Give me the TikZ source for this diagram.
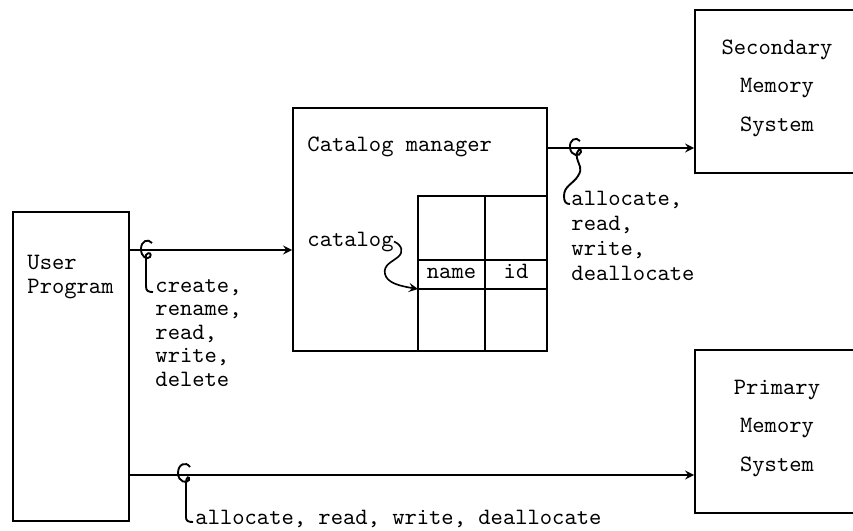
\documentclass[tikz,border=0pt]{standalone}
\begin{document}
\begin{tikzpicture}[
    x=0.015cm, y=-0.015cm,
    box/.style={draw, line width=0.8pt, inner sep=0pt},
    txt/.style={font=\fontsize{10}{10.2}\selectfont\ttfamily, inner sep=0pt, align=left},
    lbl/.style={font=\fontsize{10}{10}\selectfont\ttfamily, inner sep=0pt, align=left},
    lblwide/.style={font=\fontsize{10}{10.6}\selectfont\ttfamily, inner sep=0pt, align=left},
    boxtxt/.style={font=\fontsize{10}{16.4}\selectfont\ttfamily, inner sep=0pt, align=center},
    arrow/.style={->, >=stealth, line width=0.7pt},
    tie/.style={line width=0.8pt},
]
\useasboundingbox (0,0) rectangle (853,531);

% User program (base = last line)
\node[box, minimum width=1.74cm, minimum height=4.635cm] (user) at (71,366.5) {};
\node[txt, anchor=base west] (usertxt) at (27,293) {User\\Program};

% Catalog manager
\node[box, minimum width=3.81cm, minimum height=3.645cm] (cat) at (420,229.5) {};
\node[txt, anchor=base west] (catname) at (307,151) {Catalog manager};

% Catalog table
\node[box, minimum width=1.935cm, minimum height=2.325cm] (tbl) at (482.5,273.5) {};
\coordinate (rowa) at (418,260);
\coordinate (rowb) at (418,289);
\coordinate (colx) at (485,196);
\draw[line width=0.8pt] (rowa) -- (rowa -| tbl.east);
\draw[line width=0.8pt] (rowb) -- (rowb -| tbl.east);
\draw[line width=0.8pt] (colx) -- (colx |- tbl.south);
\node[txt, anchor=base] (name) at (451.5,278) {name};
\node[txt, anchor=base] (id) at (516,278) {id};

% catalog pointer
\node[txt, anchor=base west] (catlbl) at (307,246) {catalog};
\draw[arrow] (catlbl.east) .. controls (402,245) and (404,252) .. (398,257)
    .. controls (392,262) and (383,265) .. (385,274)
    .. controls (387,283) and (400,286) .. (rowb);

% Secondary memory
\node[box, minimum width=2.625cm, minimum height=2.445cm] (sec) at (782.5,91.5) {};
\node[boxtxt, anchor=base] (sectxt) at (777,131) {Secondary\\Memory\\System};

% Primary memory
\node[box, minimum width=2.625cm, minimum height=2.445cm] (prim) at (782.5,431.5) {};
\node[boxtxt, anchor=base] (primtxt) at (777,471) {Primary\\Memory\\System};

% User program -> catalog manager
\coordinate (u1) at (129,250);
\draw[arrow] (u1) -- (u1 -| cat.west);
\draw[tie] (152,243) .. controls (148,238) and (141,241) .. (141,249)
    .. controls (141,257) and (147,260) .. (150,257)
    .. controls (152,254) and (149,251) .. (146,255) -- (146,286)
    .. controls (146,291) and (148,292) .. (153,292);
\node[lbl, anchor=base west] (ops1) at (155,386) {create,\\rename,\\read,\\write,\\delete};

% Catalog manager -> secondary memory
\coordinate (c1) at (547,148);
\draw[arrow] (c1) -- (c1 -| sec.west);
\draw[tie] (580,141) .. controls (576,136) and (569,140) .. (570,148)
    .. controls (571,156) and (580,157) .. (581,152)
    .. controls (582,147) and (575,150) .. (577,158)
    .. controls (579,166) and (583,168) .. (578,176)
    .. controls (573,184) and (564,186) .. (564,196)
    .. controls (564,202) and (566,204) .. (570,204);
\node[lblwide, anchor=base west] (ops2) at (571,280) {allocate,\\read,\\write,\\deallocate};

% User program -> primary memory
\coordinate (u2) at (129,475);
\draw[arrow] (u2) -- (u2 -| prim.west);
\draw[tie] (190,467) .. controls (186,461) and (178,464) .. (178,473)
    .. controls (178,482) and (187,484) .. (189,480)
    .. controls (190,476) and (186,476) .. (186,483) -- (186,517)
    .. controls (186,521) and (188,522) .. (193,522);
\node[lbl, anchor=base west] (ops3) at (195,524) {allocate, read, write, deallocate};

\end{tikzpicture}
\end{document}
